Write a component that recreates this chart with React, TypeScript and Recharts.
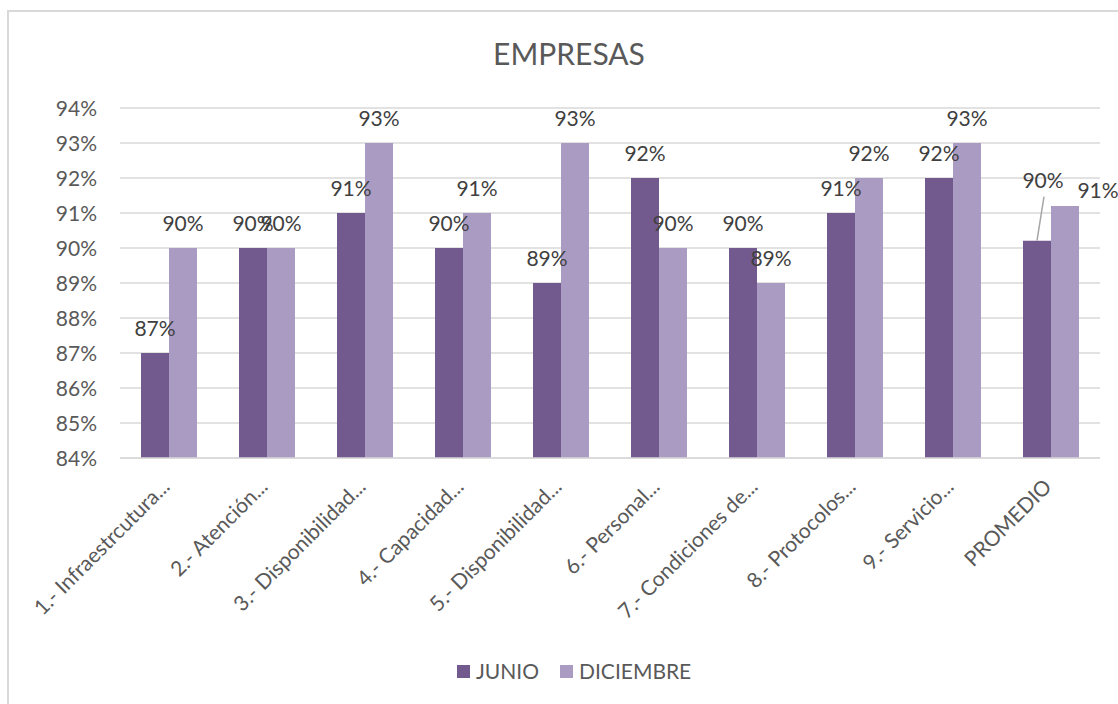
import React from 'react'
import { BarChart, Bar, XAxis, YAxis, CartesianGrid } from 'recharts'

const categories = [
  '1.- Infraestrcutura...',
  '2.- Atención...',
  '3.- Disponibilidad...',
  '4.- Capacidad...',
  '5.- Disponibilidad...',
  '6.- Personal...',
  '7.- Condiciones de...',
  '8.- Protocolos...',
  '9.- Servicio...',
  'PROMEDIO',
]
const junio = [87, 90, 91, 90, 89, 92, 90, 91, 92, 90.21]
const diciembre = [90, 90, 93, 91, 93, 90, 89, 92, 93, 91.2]
const yTicks = [84, 85, 86, 87, 88, 89, 90, 91, 92, 93, 94]

const JUNIO_COLOR = '#725a8f'
const DIC_COLOR = '#a99bc1'
const TEXT = '#595959'
const GRID = '#d9d9d9'
const FONT = 'Lato, "Open Sans", sans-serif'

const data = categories.map((name, i) => ({
  name,
  JUNIO: junio[i],
  DICIEMBRE: diciembre[i],
}))

const last = categories.length - 1

function YTick({ y, payload }: any) {
  return (
    <text x={97} y={y + 7.5} textAnchor="end" fill={TEXT} fontSize={21} fontFamily={FONT}>
      {payload.value}%
    </text>
  )
}

function XTick({ x, payload }: any) {
  return (
    <text
      x={x + 2}
      y={488}
      textAnchor="end"
      fill={TEXT}
      fontSize={21}
      fontFamily={FONT}
      transform={`rotate(-45 ${x + 2} 488)`}
    >
      {payload.value}
    </text>
  )
}

// Excel nudged the PROMEDIO labels away from each other; mimic that.
function makeLabel(series: 'JUNIO' | 'DICIEMBRE') {
  return (props: any) => {
    const { x, y, width, value, index } = props
    const cx = x + width / 2
    const txt = `${Math.round(value)}%`
    const common = { fill: '#404040', fontSize: 21, fontFamily: FONT, textAnchor: 'middle' as const }
    if (index === last && series === 'JUNIO') {
      return (
        <g>
          <line x1={cx + 7} y1={y - 44} x2={cx} y2={y} stroke="#a6a6a6" strokeWidth={1.5} />
          <text x={cx + 6} y={y - 53} {...common}>{txt}</text>
        </g>
      )
    }
    if (index === last && series === 'DICIEMBRE') {
      return <text x={cx + 33} y={y - 8} {...common}>{txt}</text>
    }
    return <text x={cx} y={y - 17} {...common}>{txt}</text>
  }
}

function LegendBox() {
  const items = [
    { label: 'JUNIO', color: JUNIO_COLOR, left: 457 },
    { label: 'DICIEMBRE', color: DIC_COLOR, left: 560 },
  ]
  return (
    <>
      {items.map(it => (
        <div
          key={it.label}
          style={{
            position: 'absolute',
            left: it.left,
            top: 659,
            display: 'flex',
            alignItems: 'center',
            fontFamily: FONT,
            fontSize: 21,
            color: TEXT,
            lineHeight: '24px',
          }}
        >
          <span style={{ width: 13, height: 13, background: it.color, marginRight: 6, display: 'inline-block' }} />
          {it.label}
        </div>
      ))}
    </>
  )
}

export default function App() {
  return (
    <div style={{ position: 'absolute', left: 0, top: 0, width: 1118, height: 704, background: '#fff', overflow: 'hidden' }}>
      <div
        style={{
          position: 'absolute',
          left: 7,
          top: 10,
          width: 1111,
          height: 694,
          borderLeft: `2px solid ${GRID}`,
          borderTop: `2px solid ${GRID}`,
          boxSizing: 'border-box',
        }}
      />
      <div
        style={{
          position: 'absolute',
          left: 369,
          width: 400,
          top: 38,
          textAlign: 'center',
          fontFamily: FONT,
          fontSize: 30,
          lineHeight: '30px',
          color: TEXT,
        }}
      >
        EMPRESAS
      </div>
      <div style={{ position: 'absolute', left: 0, top: 0 }}>
        <BarChart
          width={1118}
          height={704}
          data={data}
          margin={{ top: 108, right: 18, left: 0, bottom: 0 }}
          barSize={28}
          barGap={0}
        >
          <CartesianGrid vertical={false} stroke={GRID} strokeWidth={1.5} />
          <XAxis
            dataKey="name"
            height={246}
            axisLine={{ stroke: GRID, strokeWidth: 1.5 }}
            tickLine={false}
            interval={0}
            tick={<XTick />}
          />
          <YAxis
            width={120}
            domain={[84, 94]}
            ticks={yTicks}
            axisLine={false}
            tickLine={false}
            tick={<YTick />}
            allowDataOverflow
          />
          <Bar dataKey="JUNIO" fill={JUNIO_COLOR} isAnimationActive={false} label={makeLabel('JUNIO')} />
          <Bar dataKey="DICIEMBRE" fill={DIC_COLOR} isAnimationActive={false} label={makeLabel('DICIEMBRE')} />
        </BarChart>
      </div>
      <LegendBox />
    </div>
  )
}
